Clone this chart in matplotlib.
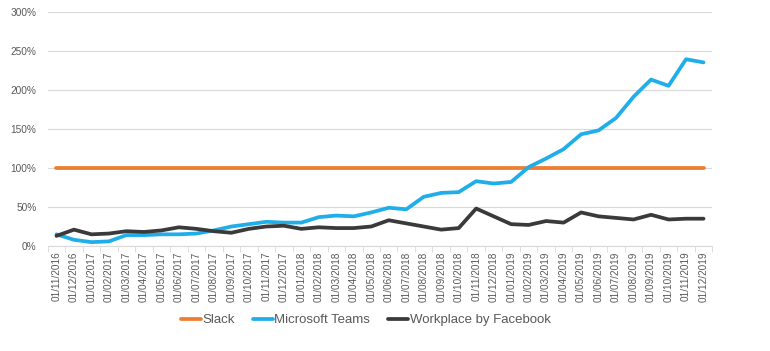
import numpy as np
import matplotlib
matplotlib.use("Agg")
import matplotlib.pyplot as plt
import pandas as pd
from matplotlib.ticker import FuncFormatter

# месяцы, 01/11/2016 .. 01/12/2019
months = list(pd.date_range("2016-11-01", "2019-12-01", freq="MS").strftime("%d/%m/%Y"))

slack = [100] * 38
teams = [15, 8, 5, 6, 14, 14, 15, 15, 16, 20, 25, 28, 31, 30, 30, 37, 39, 38, 43, 49,
         47, 63, 68, 69, 83, 80, 82, 101, 112, 124, 143, 148, 164, 191, 213, 205, 239, 235]
workplace = [13, 21, 15, 16, 19, 18, 20, 24, 22, 19, 17, 22, 25, 26, 22, 24, 23, 23, 25, 33,
             29, 25, 21, 23, 48, 38, 28, 27, 32, 30, 43, 38, 36, 34, 40, 34, 35, 35]

plt.rcParams['font.family'] = ['Liberation Sans', 'DejaVu Sans']
grey = '#595959'

fig = plt.figure(figsize=(7.7, 3.51), dpi=100)
ax = fig.add_axes([0.062, 0.299, 0.863, 0.668])

x = np.arange(len(months))
ax.plot(x, slack, color='#ED7D31', lw=2.7, label='Slack', solid_capstyle='round')
ax.plot(x, teams, color='#1FAEEA', lw=2.7, label='Microsoft Teams', solid_capstyle='round')
ax.plot(x, workplace, color='#3A3A3A', lw=2.7, label='Workplace by Facebook', solid_capstyle='round')

ax.set_xlim(-0.5, len(months) - 0.5)
ax.set_ylim(0, 300)
ax.set_yticks(range(0, 301, 50))
ax.yaxis.set_major_formatter(FuncFormatter(lambda v, p: f"{int(v)}%"))
ax.grid(axis='y', color='#D9D9D9', lw=0.8)
ax.set_axisbelow(True)

# подписи по центру категорий, засечки между ними
ax.set_xticks(x)
ax.set_xticklabels(months, rotation=90, fontsize=7.2, color=grey)
ax.set_xticks(np.arange(-0.5, len(months)), minor=True)
ax.tick_params(axis='x', which='major', length=0, pad=4)
ax.tick_params(axis='x', which='minor', length=4, color='#D9D9D9')
ax.tick_params(axis='y', length=0, labelsize=7.3, labelcolor=grey, pad=8)

for s in ['top', 'right', 'left']:
    ax.spines[s].set_visible(False)
ax.spines['bottom'].set_color('#D9D9D9')

fig.legend(loc='center', bbox_to_anchor=(0.475, 0.088), ncol=3, frameon=False,
           fontsize=9.5, labelcolor=grey, handlelength=1.5, handletextpad=0.1,
           columnspacing=1.4)

fig.savefig('out.png', dpi=100)
